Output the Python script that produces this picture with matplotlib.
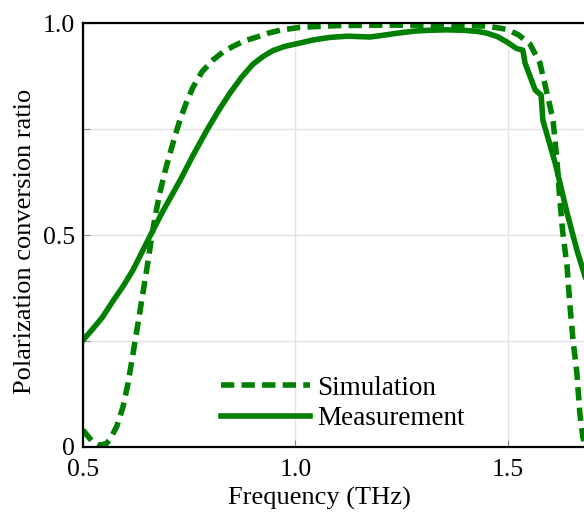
import numpy as np
import matplotlib.pyplot as plt

plt.rcParams['font.family'] = ['Liberation Serif', 'DejaVu Serif']

# simulation curve (dashed)
sim_freq = [0.500, 0.520, 0.540, 0.555, 0.565, 0.580, 0.594, 0.606, 0.618, 0.630,
            0.641, 0.651, 0.660, 0.670, 0.681, 0.693, 0.705, 0.717, 0.728, 0.743,
            0.759, 0.780, 0.806, 0.830, 0.853, 0.880, 0.909, 0.935, 0.964, 1.011,
            1.100, 1.200, 1.300, 1.400, 1.450, 1.498, 1.525, 1.552, 1.575, 1.594,
            1.606, 1.615, 1.622, 1.629, 1.639, 1.646, 1.653, 1.662, 1.669, 1.676,
            1.682]
sim_ratio = [0.040, 0.015, 0.004, 0.008, 0.020, 0.050, 0.094, 0.150, 0.222, 0.295,
             0.363, 0.425, 0.485, 0.545, 0.600, 0.650, 0.693, 0.735, 0.771, 0.812,
             0.849, 0.885, 0.913, 0.932, 0.945, 0.958, 0.967, 0.976, 0.983, 0.990,
             0.994, 0.995, 0.995, 0.994, 0.993, 0.985, 0.972, 0.950, 0.906, 0.825,
             0.771, 0.677, 0.583, 0.505, 0.425, 0.330, 0.252, 0.175, 0.080, 0.024,
             0.000]

# measurement curve (solid)
meas_freq = [0.500, 0.520, 0.545, 0.571, 0.595, 0.618, 0.640, 0.665, 0.690, 0.728,
             0.760, 0.792, 0.820, 0.846, 0.873, 0.900, 0.925, 0.947, 0.975, 1.011,
             1.041, 1.080, 1.121, 1.150, 1.175, 1.205, 1.239, 1.280, 1.316, 1.355,
             1.394, 1.430, 1.451, 1.475, 1.498, 1.520, 1.535, 1.540, 1.564, 1.578,
             1.582, 1.611, 1.639, 1.662, 1.682]
meas_ratio = [0.252, 0.275, 0.305, 0.345, 0.380, 0.418, 0.462, 0.512, 0.560, 0.628,
              0.690, 0.748, 0.795, 0.835, 0.872, 0.903, 0.922, 0.935, 0.945, 0.953,
              0.960, 0.966, 0.969, 0.968, 0.967, 0.971, 0.976, 0.981, 0.983, 0.984,
              0.983, 0.980, 0.976, 0.968, 0.955, 0.940, 0.936, 0.906, 0.842, 0.830,
              0.771, 0.670, 0.552, 0.465, 0.400]

x_ticks = [0.5, 1.0, 1.5]
x_ticklabels = ['0.5', '1.0', '1.5']
y_ticks = [0, 0.25, 0.5, 0.75, 1.0]
y_ticklabels = ['0', '', '0.5', '', '1.0']

green = '#008000'

fig = plt.figure(figsize=(5.84, 5.12), dpi=100)
# axes runs past the right edge of the figure, like the cropped original
ax = fig.add_axes([0.1421, 0.127, 0.9097, 0.828])

ax.plot(sim_freq, sim_ratio, color=green, lw=4, dashes=(2.4, 1.3),
        label='Simulation')
ax.plot(meas_freq, meas_ratio, color=green, lw=4, label='Measurement')

ax.set_xlim(0.5, 1.75)
ax.set_ylim(0, 1.0)
ax.set_xticks(x_ticks)
ax.set_xticklabels(x_ticklabels)
ax.set_yticks(y_ticks)
ax.set_yticklabels(y_ticklabels)
ax.tick_params(direction='in', labelsize=18.5, length=5, color='#888888')
ax.tick_params(axis='x', pad=9)
ax.tick_params(axis='y', pad=6)
ax.grid(True, color='#e3e3e3', lw=1)
ax.set_axisbelow(True)
for s in ax.spines.values():
    s.set_linewidth(1.6)
    s.set_color('black')

ax.set_xlabel('Frequency (THz)', fontsize=19)
ax.xaxis.set_label_coords(0.446, -0.094)
ax.set_ylabel('Polarization conversion ratio', fontsize=19)
ax.yaxis.set_label_coords(-0.088, 0.486)

ax.legend(loc='upper left', bbox_to_anchor=(0.825, 0.168),
          bbox_transform=ax.transData, frameon=False, fontsize=19.5,
          handlelength=3.3, handletextpad=0.25, borderpad=0, borderaxespad=0,
          labelspacing=0.2)

fig.savefig('out.png', dpi=100)
